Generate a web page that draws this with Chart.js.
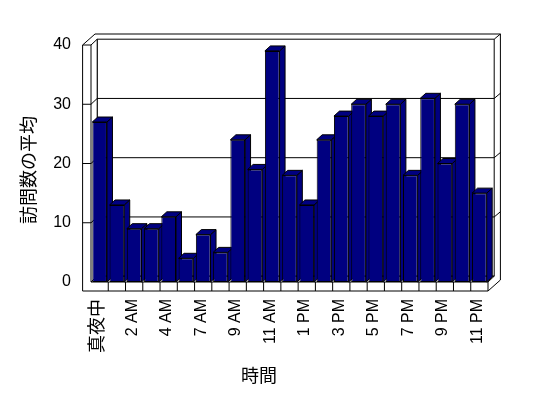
<!DOCTYPE html>
<html><head><meta charset="utf-8">
<script src="https://cdn.jsdelivr.net/npm/chart.js@4.4.0/dist/chart.umd.min.js"></script>
<style>html,body{margin:0;padding:0;background:#fff;}#wrap{width:548px;height:398px;}</style>
</head><body><div id="wrap"><canvas id="c" width="548" height="398"></canvas></div>
<script>
const categories = ['真夜中','1 AM','2 AM','3 AM','4 AM','5 AM','7 AM','8 AM','9 AM','10 AM','11 AM','正午','1 PM','2 PM','3 PM','4 PM','5 PM','6 PM','7 PM','8 PM','9 PM','10 PM','11 PM'];
const visits = [27,13,9,9,11,4,8,5,24,19,39,18,13,24,28,30,28,30,18,31,20,30,15];
const yTicks = [0,10,20,30,40];
const xTitle = '時間';
const yTitle = '訪問数の平均';

const D1 = {x: 6.2, y: -5.8};
const D2 = {x: 12.4, y: -11};
const BD = {x: 5.5, y: -5};
const WALL = 8.4, FLOOR = 9;

function poly(ctx, pts, fill) {
  ctx.beginPath(); ctx.moveTo(pts[0][0], pts[0][1]);
  for (let i = 1; i < pts.length; i++) ctx.lineTo(pts[i][0], pts[i][1]);
  ctx.closePath();
  if (fill) { ctx.fillStyle = fill; ctx.fill(); }
  ctx.stroke();
}
function line(ctx, x1, y1, x2, y2) { ctx.beginPath(); ctx.moveTo(x1, y1); ctx.lineTo(x2, y2); ctx.stroke(); }

const box3d = {
  id: 'box3d',
  beforeDatasetsDraw(chart) {
    const ctx = chart.ctx;
    const {left: L, right: R, top: T, bottom: B} = chart.chartArea;
    const ys = chart.scales.y, xs = chart.scales.x;
    const X0 = L - WALL;
    ctx.save();
    ctx.lineWidth = 1; ctx.strokeStyle = '#000';
    poly(ctx, [[X0, T], [X0 + D2.x, T + D2.y], [R + D2.x, T + D2.y], [R + D2.x, B + FLOOR + D2.y], [R, B + FLOOR], [X0, B + FLOOR]], '#fff');
    poly(ctx, [[L + D1.x, T + D1.y], [R + D1.x, T + D1.y], [R + D1.x, B + D1.y], [L + D1.x, B + D1.y]], '#fff');
    poly(ctx, [[L, T], [L + D1.x, T + D1.y], [L + D1.x, B + D1.y], [L, B]], '#fff');
    poly(ctx, [[L, B], [R, B], [R + D1.x, B + D1.y], [L + D1.x, B + D1.y]], '#fff');
    line(ctx, X0, T, L, T);
    line(ctx, R, B, R, B + FLOOR);
    line(ctx, R + D1.x, T + D1.y, R + D2.x, T + D2.y);
    yTicks.forEach(v => {
      if (v === 0 || v === 40) return;
      const y = ys.getPixelForValue(v);
      line(ctx, X0, y, L, y);
      line(ctx, L, y, L + D1.x, y + D1.y);
      line(ctx, L + D1.x, y + D1.y, R + D1.x, y + D1.y);
      line(ctx, R + D1.x, y + D1.y, R + D2.x, y + D2.y);
    });
    for (let i = 1; i < categories.length; i++) {
      const x = (xs.getPixelForValue(i - 1) + xs.getPixelForValue(i)) / 2;
      line(ctx, x, B, x, B + FLOOR);
    }
    const meta = chart.getDatasetMeta(0);
    meta.data.forEach(el => {
      const {x, y, base, width} = el.getProps(['x', 'y', 'base', 'width'], true);
      const l = x - width / 2, r = x + width / 2;
      poly(ctx, [[r, y], [r + BD.x, y + BD.y], [r + BD.x, base + BD.y], [r, base]], '#000080');
      poly(ctx, [[l, y], [r, y], [r + BD.x, y + BD.y], [l + BD.x, y + BD.y]], '#000080');
    });
    ctx.restore();
  },
  afterDraw(chart) {
    const ctx = chart.ctx;
    ctx.save();
    ctx.fillStyle = '#000';
    ctx.font = '18px "Noto Sans CJK JP", sans-serif';
    ctx.textAlign = 'center'; ctx.textBaseline = 'middle';
    ctx.fillText(xTitle, 259, 375);
    ctx.translate(28.5, 170); ctx.rotate(-Math.PI / 2);
    ctx.fillText(yTitle, 0, 0);
    ctx.restore();
  }
};

Chart.defaults.font.family = '"Liberation Sans", "Noto Sans CJK JP", sans-serif';
Chart.defaults.color = '#000';

new Chart(document.getElementById('c'), {
  type: 'bar',
  data: {
    labels: categories,
    datasets: [{
      data: visits,
      backgroundColor: '#000080',
      borderColor: '#000',
      borderWidth: 1,
      borderSkipped: false,
      categoryPercentage: 1,
      barPercentage: 0.85
    }]
  },
  options: {
    responsive: false,
    animation: false,
    devicePixelRatio: 1,
    layout: {padding: {top: 45, right: 60, left: 0, bottom: 0}},
    plugins: {legend: {display: false}, tooltip: {enabled: false}},
    scales: {
      x: {
        grid: {display: false, drawTicks: false},
        border: {display: false},
        ticks: {
          autoSkip: false, minRotation: 90, maxRotation: 90, padding: 17, labelOffset: -2,
          font: c => ({size: c.index === 0 ? 18 : 16}),
          callback: (v, i) => (i % 2 === 0 ? categories[i] : '')
        },
        afterFit: s => { s.height = 116; }
      },
      y: {
        min: 0, max: 40,
        grid: {display: false, drawTicks: false},
        border: {display: false},
        ticks: {stepSize: 10, padding: 20, font: {size: 16}},
        afterFit: s => { s.width = 91; }
      }
    }
  },
  plugins: [box3d]
});
</script>
</body></html>
